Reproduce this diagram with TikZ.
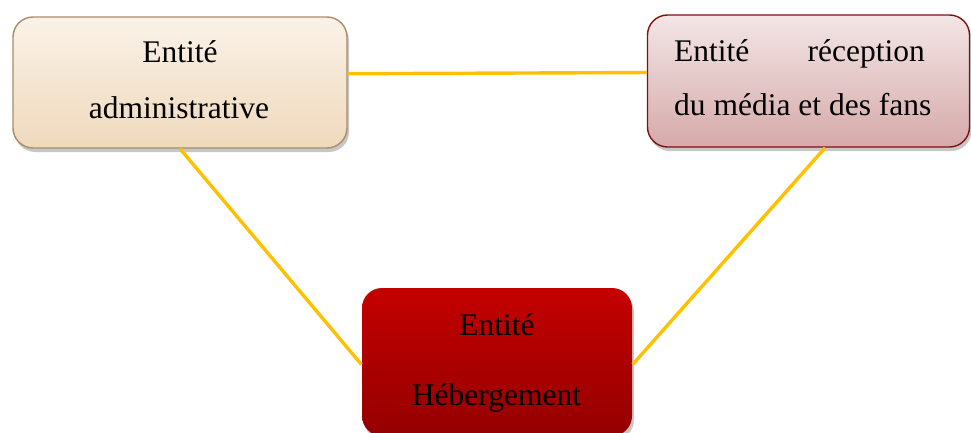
\documentclass[tikz,border=0pt]{standalone}
\usepackage{fontspec}
\setmainfont{Liberation Serif}
\usetikzlibrary{shadows}
\definecolor{linkyellow}{HTML}{FFC000}
\definecolor{admtop}{HTML}{FAF2E8}
\definecolor{admbot}{HTML}{EFD9BC}
\definecolor{admborder}{HTML}{A88E68}
\definecolor{rectop}{HTML}{F3E6E6}
\definecolor{recbot}{HTML}{D6A9A9}
\definecolor{recborder}{HTML}{7E1212}
\definecolor{hebtop}{HTML}{C40000}
\definecolor{hebbot}{HTML}{940000}
\begin{document}
\begin{tikzpicture}[x=1pt,y=1pt,
  entitybox/.style={rectangle, rounded corners=20pt, inner sep=0pt, line width=1.4pt,
    drop shadow={shadow xshift=2pt, shadow yshift=-4pt, opacity=0.22, fill=black}},
  label/.style={inner sep=0pt, font=\fontsize{31.5}{36}\selectfont, text=black},
  link/.style={draw=linkyellow, line width=3.4pt}]
\useasboundingbox (0,0) rectangle (971,-433);
\node[entitybox, draw=admborder, top color=admtop, bottom color=admbot,
  minimum width=334pt, minimum height=131pt] (adm) at (180,-82.5) {};
\node[entitybox, draw=recborder, top color=rectop, bottom color=recbot,
  minimum width=322pt, minimum height=132pt] (rec) at (808.5,-81) {};
\node[entitybox, draw=none, top color=hebtop, bottom color=hebbot,
  minimum width=270pt, minimum height=148pt] (heb) at (497,-362) {};
\node[label, anchor=base] (adm1) at (180,-63) {Entité};
\node[label, anchor=base] (adm2) at (179,-118) {administrative};
\node[label, anchor=base west] (rec1a) at (674,-62) {Entité};
\node[label, anchor=base east] (rec1b) at (925,-62) {réception};
\node[label, anchor=base west] (rec2) at (674,-116) {du média et des fans};
\node[label, anchor=base] (heb1) at (497,-335) {Entité};
\node[label, anchor=base] (heb2) at (496.5,-405) {Hébergement};
\draw[link] (adm.3.3) -- (rec.177.8);
\draw[link] (adm.south) -- (heb.181.3);
\draw[link] (rec.-76.2) -- (heb.-1.3);
\end{tikzpicture}
\end{document}
